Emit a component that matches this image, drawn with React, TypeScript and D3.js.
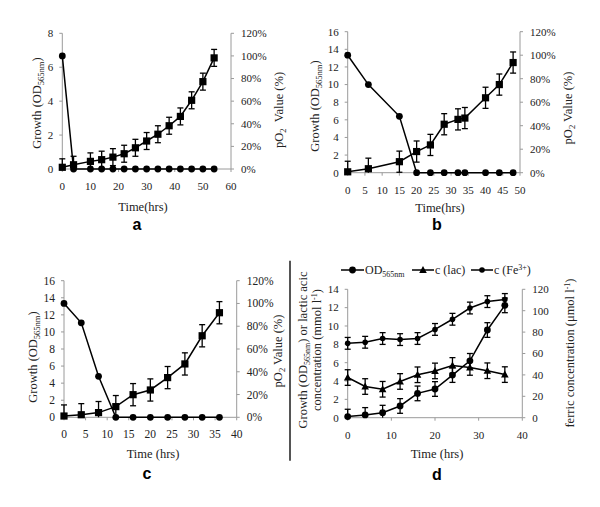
import React from 'react';
import * as d3 from 'd3';

// ---------- Data ----------
const timeA = [0, 4, 10, 14, 18, 22, 26, 30, 34, 38, 42, 46, 50, 54];
const odA = [0.1, 0.25, 0.45, 0.55, 0.7, 0.9, 1.25, 1.65, 2.05, 2.55, 3.1, 4.05, 5.15, 6.55];
const odErrA = [0.5, 0.5, 0.5, 0.5, 0.5, 0.5, 0.5, 0.5, 0.5, 0.5, 0.5, 0.5, 0.5, 0.5];
const po2A = [100, 0, 0, 0, 0, 0, 0, 0, 0, 0, 0, 0, 0, 0];

const timeB = [0, 6, 15, 20, 24, 28, 32, 34, 40, 44, 48];
const odB = [0.1, 0.45, 1.25, 2.4, 3.15, 5.5, 6.05, 6.2, 8.5, 10.0, 12.5];
const odErrB = [1.2, 1.2, 1.2, 1.2, 1.2, 1.2, 1.2, 1.2, 1.2, 1.2, 1.2];
const po2B = [100, 75, 48, 0, 0, 0, 0, 0, 0, 0, 0];

const timeC = [0, 4, 8, 12, 16, 20, 24, 28, 32, 36];
const odC = [0.15, 0.3, 0.55, 1.25, 2.65, 3.2, 4.65, 6.25, 9.55, 12.25];
const odErrC = [1.3, 1.3, 1.3, 1.3, 1.3, 1.3, 1.3, 1.3, 1.3, 1.3];
const po2C = [100, 83, 36, 0, 0, 0, 0, 0, 0, 0];

const timeD = [0, 4, 8, 12, 16, 20, 24, 28, 32, 36];
const odD = [0.12, 0.3, 0.55, 1.28, 2.65, 3.13, 4.65, 6.2, 9.56, 12.25];
const odErrD = [0.8, 0.8, 0.8, 0.8, 0.8, 0.8, 0.8, 0.8, 0.8, 0.8];
const lacD = [4.38, 3.4, 3.1, 3.95, 4.68, 5.1, 5.7, 5.48, 5.12, 4.7];
const lacErrD = [0.85, 0.85, 0.85, 0.85, 0.85, 0.85, 0.85, 0.85, 0.85, 0.85];
const feD = [69.5, 70.5, 74, 73, 74, 82.5, 92, 102.5, 108.5, 110.5];
const feErrD = [5.5, 5.5, 5.5, 5.5, 5.5, 5.5, 5.5, 5.5, 5.5, 5.5];

const pctTicks = [0, 20, 40, 60, 80, 100, 120];

// ---------- Drawing helpers ----------
const SERIF = "'Liberation Serif', 'Times New Roman', serif";
const SANS = "'Liberation Sans', Arial, sans-serif";
const AXIS = '#9a9a9a';

type Kind = 'square' | 'circle' | 'small' | 'triangle';

function Marker({ kind, x, y }: { kind: Kind; x: number; y: number }) {
  if (kind === 'square') return <rect x={x - 3.6} y={y - 3.6} width={7.2} height={7.2} fill="#000" />;
  if (kind === 'circle') return <circle cx={x} cy={y} r={3.4} fill="#000" />;
  if (kind === 'small') return <circle cx={x} cy={y} r={2.8} fill="#000" />;
  return <path d={`M${x},${y - 4} L${x + 3.8},${y + 3} L${x - 3.8},${y + 3} Z`} fill="#000" />;
}

type Series = { t: number[]; v: number[]; err?: number[]; right?: boolean; kind: Kind };

type PanelCfg = {
  x0: number; x1: number; yTop: number; yBot: number;
  xMax: number; xStep: number; yMax: number; yStep: number;
  rightTicks: number[]; rightFmt: (v: number) => string;
  series: Series[];
  leftLabel: React.ReactNode; leftX: number; leftY: number;
  rightLabel: React.ReactNode; rightX: number; rightY: number;
  xTitle: string; xTitleY: number; xTitleX: number;
  letter: string; letterX: number; letterY: number;
  fs: number;
};

function Panel({ c }: { c: PanelCfg }) {
  const x = d3.scaleLinear().domain([0, c.xMax]).range([c.x0, c.x1]);
  const yL = d3.scaleLinear().domain([0, c.yMax]).range([c.yBot, c.yTop]);
  const yR = d3.scaleLinear().domain([0, 120]).range([c.yBot, c.yTop]);
  const xTicks = d3.range(0, c.xMax + 0.001, c.xStep);
  const yTicks = d3.range(0, c.yMax + 0.001, c.yStep);
  return (
    <g>
      {/* axes */}
      <line x1={c.x0} x2={c.x0} y1={c.yTop} y2={c.yBot} stroke={AXIS} strokeWidth={1} />
      <line x1={c.x1} x2={c.x1} y1={c.yTop} y2={c.yBot} stroke={AXIS} strokeWidth={1} />
      <line x1={c.x0} x2={c.x1} y1={c.yBot} y2={c.yBot} stroke={AXIS} strokeWidth={1} />
      {yTicks.map((t) => (
        <g key={'yl' + t}>
          <line x1={c.x0 - 3} x2={c.x0} y1={yL(t)} y2={yL(t)} stroke={AXIS} />
          <text x={c.x0 - 9} y={yL(t)} dy="0.35em" textAnchor="end" fontFamily={SERIF} fontSize={c.fs} fill="#222">{t}</text>
        </g>
      ))}
      {c.rightTicks.map((t) => (
        <g key={'yr' + t}>
          <line x1={c.x1} x2={c.x1 + 3} y1={yR(t)} y2={yR(t)} stroke={AXIS} />
          <text x={c.x1 + 10} y={yR(t)} dy="0.35em" textAnchor="start" fontFamily={SERIF} fontSize={c.fs} fill="#222">{c.rightFmt(t)}</text>
        </g>
      ))}
      {xTicks.map((t) => (
        <g key={'x' + t}>
          <line x1={x(t)} x2={x(t)} y1={c.yBot} y2={c.yBot + 3} stroke={AXIS} />
          <text x={x(t)} y={c.yBot + 21} textAnchor="middle" fontFamily={SERIF} fontSize={c.fs} fill="#222">{t}</text>
        </g>
      ))}
      {/* series */}
      {c.series.map((s, si) => {
        const y = s.right ? yR : yL;
        const dom = s.right ? 120 : c.yMax;
        const line = d3.line<number>().x((_, i) => x(s.t[i])).y((v) => y(v));
        return (
          <g key={'s' + si}>
            {s.err && s.v.map((v, i) => {
              const hi = Math.min(dom, v + s.err![i]);
              const loRaw = v - s.err![i];
              const lo = Math.max(0, loRaw);
              const xx = x(s.t[i]);
              return (
                <g key={'e' + i} stroke="#000" strokeWidth={1.3}>
                  <line x1={xx} x2={xx} y1={y(hi)} y2={y(lo)} />
                  <line x1={xx - 3} x2={xx + 3} y1={y(hi)} y2={y(hi)} />
                  {loRaw >= 0 && <line x1={xx - 3} x2={xx + 3} y1={y(lo)} y2={y(lo)} />}
                </g>
              );
            })}
            <path d={line(s.v) || ''} fill="none" stroke="#000" strokeWidth={1.5} />
            {s.v.map((v, i) => <Marker key={'m' + i} kind={s.kind} x={x(s.t[i])} y={y(v)} />)}
          </g>
        );
      })}
      {/* labels */}
      <text transform={`translate(${c.leftX},${c.leftY}) rotate(-90)`} dy="0.35em" textAnchor="middle" fontFamily={SERIF} fontSize={12.5} fill="#222">{c.leftLabel}</text>
      <text transform={`translate(${c.rightX},${c.rightY}) rotate(-90)`} dy="0.35em" textAnchor="middle" fontFamily={SERIF} fontSize={12.5} fill="#222">{c.rightLabel}</text>
      <text x={c.xTitleX} y={c.xTitleY} textAnchor="middle" fontFamily={SERIF} fontSize={12.5} fill="#222">{c.xTitle}</text>
      <text x={c.letterX} y={c.letterY} textAnchor="middle" fontFamily={SANS} fontWeight="bold" fontSize={16} fill="#000">{c.letter}</text>
    </g>
  );
}

const growthLabel = (
  <>
    <tspan>Growth (OD</tspan>
    <tspan fontSize={8.5} dy={2.5}>565nm</tspan>
    <tspan dy={-2.5}>)</tspan>
  </>
);
const po2Label = (gap: string) => (
  <>
    <tspan>pO</tspan>
    <tspan fontSize={8.5} dy={2.5}>2</tspan>
    <tspan dy={-2.5}>{gap}Value (%)</tspan>
  </>
);
const pct = (v: number) => `${v}%`;

export default function App() {
  const panels: PanelCfg[] = [
    {
      x0: 62.3, x1: 231, yTop: 33.3, yBot: 169, xMax: 60, xStep: 10, yMax: 8, yStep: 2,
      rightTicks: pctTicks, rightFmt: pct,
      series: [
        { t: timeA, v: po2A, right: true, kind: 'circle' },
        { t: timeA, v: odA, err: odErrA, kind: 'square' },
      ],
      leftLabel: growthLabel, leftX: 37, leftY: 103,
      rightLabel: po2Label('\u00a0\u00a0'), rightX: 279, rightY: 110,
      xTitle: 'Time(hrs)', xTitleX: 143, xTitleY: 211,
      letter: 'a', letterX: 137, letterY: 230, fs: 11,
    },
    {
      x0: 347.7, x1: 520, yTop: 31.7, yBot: 172.7, xMax: 50, xStep: 5, yMax: 16, yStep: 2,
      rightTicks: pctTicks, rightFmt: pct,
      series: [
        { t: timeB, v: po2B, right: true, kind: 'circle' },
        { t: timeB, v: odB, err: odErrB, kind: 'square' },
      ],
      leftLabel: growthLabel, leftX: 315, leftY: 106,
      rightLabel: po2Label(' '), rightX: 568, rightY: 108,
      xTitle: 'Time(hrs)', xTitleX: 440, xTitleY: 212,
      letter: 'b', letterX: 437, letterY: 230, fs: 11,
    },
    {
      x0: 64, x1: 236.7, yTop: 280.7, yBot: 417.3, xMax: 40, xStep: 5, yMax: 16, yStep: 2,
      rightTicks: pctTicks, rightFmt: pct,
      series: [
        { t: timeC, v: po2C, right: true, kind: 'circle' },
        { t: timeC, v: odC, err: odErrC, kind: 'square' },
      ],
      leftLabel: growthLabel, leftX: 33, leftY: 357,
      rightLabel: po2Label(' '), rightX: 278, rightY: 351,
      xTitle: 'Time (hrs)', xTitleX: 153, xTitleY: 458,
      letter: 'c', letterX: 147, letterY: 479, fs: 11.5,
    },
    {
      x0: 347.7, x1: 522.3, yTop: 289.3, yBot: 417.7, xMax: 40, xStep: 10, yMax: 14, yStep: 2,
      rightTicks: pctTicks, rightFmt: (v) => `${v}`,
      series: [
        { t: timeD, v: feD, err: feErrD, right: true, kind: 'small' },
        { t: timeD, v: lacD, err: lacErrD, kind: 'triangle' },
        { t: timeD, v: odD, err: odErrD, kind: 'circle' },
      ],
      leftLabel: <></>, leftX: -100, leftY: 0,
      rightLabel: (
        <>
          <tspan>ferric concentration (μmol l</tspan>
          <tspan fontSize={8} dy={-4}>-1</tspan>
          <tspan dy={4}>)</tspan>
        </>
      ),
      rightX: 570, rightY: 353,
      xTitle: 'Time (hrs)', xTitleX: 437, xTitleY: 458,
      letter: 'd', letterX: 437, letterY: 480, fs: 11,
    },
  ];

  const legendY = 270;
  const legendItems: { x0: number; x1: number; kind: Kind; label: React.ReactNode }[] = [
    { x0: 341, x1: 364, kind: 'circle', label: <><tspan>OD</tspan><tspan fontSize={8} dy={2.5}>565nm</tspan></> },
    { x0: 412, x1: 434, kind: 'triangle', label: <tspan>c (lac)</tspan> },
    { x0: 471, x1: 493, kind: 'small', label: <><tspan>c (Fe</tspan><tspan fontSize={8} dy={-4}>3+</tspan><tspan dy={4}>)</tspan></> },
  ];

  return (
    <svg width={600} height={507} style={{ display: 'block', position: 'absolute', left: 0, top: 0, background: '#fff' }}>
      <rect width={600} height={507} fill="#fff" />
      {panels.map((p, i) => <Panel key={i} c={p} />)}
      {/* divider */}
      <line x1={290} x2={290} y1={260.7} y2={460.7} stroke="#555" strokeWidth={2} />
      {/* panel d left label (two lines) */}
      <text transform="translate(303,350) rotate(-90)" dy="0.35em" textAnchor="middle" fontFamily={SERIF} fontSize={12.5} fill="#222">
        <tspan>Growth (OD</tspan>
        <tspan fontSize={8} dy={2.5}>565nm</tspan>
        <tspan dy={-2.5}>) or lactic acic</tspan>
      </text>
      <text transform="translate(316.5,350) rotate(-90)" dy="0.35em" textAnchor="middle" fontFamily={SERIF} fontSize={12.5} fill="#222">
        <tspan>concentration (mmol l</tspan>
        <tspan fontSize={8} dy={-4}>-1</tspan>
        <tspan dy={4}>)</tspan>
      </text>
      {/* legend */}
      {legendItems.map((it, i) => (
        <g key={i}>
          <line x1={it.x0} x2={it.x1} y1={legendY} y2={legendY} stroke="#000" strokeWidth={1.5} />
          <Marker kind={it.kind} x={(it.x0 + it.x1) / 2} y={legendY} />
          <text x={it.x1 + 1} y={legendY + 4} fontFamily={SERIF} fontSize={12} fill="#222">{it.label}</text>
        </g>
      ))}
    </svg>
  );
}
